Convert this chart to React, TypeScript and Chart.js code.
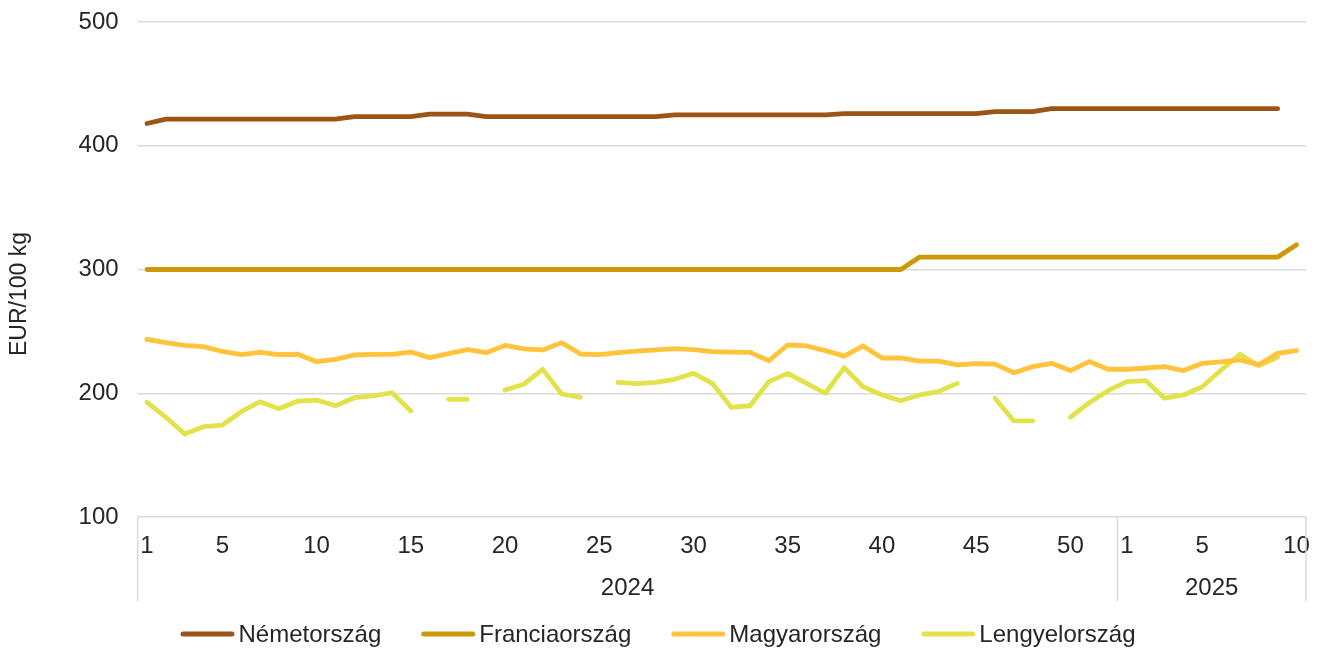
import React, { useEffect, useRef } from "react";
import { Chart, registerables } from "chart.js";

Chart.register(...registerables);

const FONT = '"Liberation Sans", Arial, sans-serif';
const TEXT = "#262626";
const GRID = "#D9D9D9";

const weeks2024 = [
  1, 2, 3, 4, 5, 6, 7, 8, 9, 10, 11, 12, 13, 14, 15, 16, 17, 18, 19, 20, 21, 22, 23, 24, 25, 26,
  27, 28, 29, 30, 31, 32, 33, 34, 35, 36, 37, 38, 39, 40, 41, 42, 43, 44, 45, 46, 47, 48, 49, 50, 51, 52,
];
const weeks2025 = [1, 2, 3, 4, 5, 6, 7, 8, 9, 10];
const yearLabels = ["2024", "2025"];
const shownWeeks = [1, 5, 10, 15, 20, 25, 30, 35, 40, 45, 50];
const yMin = 100;
const yMax = 500;
const yStep = 100;
const yTitle = "EUR/100 kg";

const seriesNames = ["Németország", "Franciaország", "Magyarország", "Lengyelország"];
const seriesColors = ["#9C5417", "#CC990A", "#FFC33C", "#E2E34B"];

const germany = [
  418, 421.5, 421.5, 421.5, 421.5, 421.5, 421.5, 421.5, 421.5, 421.5, 421.5, 423.5, 423.5, 423.5, 423.5,
  425.5, 425.5, 425.5, 423.5, 423.5, 423.5, 423.5, 423.5, 423.5, 423.5, 423.5, 423.5, 423.5, 425, 425,
  425, 425, 425, 425, 425, 425, 425, 426, 426, 426, 426, 426, 426, 426, 426, 427.5, 427.5, 427.5,
  430, 430, 430, 430,
  430, 430, 430, 430, 430, 430, 430, 430, 430, null,
];
const france = [
  300, 300, 300, 300, 300, 300, 300, 300, 300, 300, 300, 300, 300, 300, 300, 300, 300, 300, 300, 300,
  300, 300, 300, 300, 300, 300, 300, 300, 300, 300, 300, 300, 300, 300, 300, 300, 300, 300, 300, 300,
  300, 310, 310, 310, 310, 310, 310, 310, 310, 310, 310, 310,
  310, 310, 310, 310, 310, 310, 310, 310, 310, 320,
];
const hungary = [
  243.6, 240.9, 238.7, 237.6, 233.9, 231.2, 233.1, 231.2, 231.5, 225.5, 227.4, 230.9, 231.4, 231.4,
  233.3, 228.8, 232, 235.2, 232.8, 238.6, 235.8, 235, 240.9, 231.7, 231.2, 232.8, 234.1, 235, 236,
  235.2, 233.6, 233.3, 233, 226.3, 239, 238.2, 234.4, 230, 238.2, 228.5, 228.5, 226, 226, 223, 224,
  223.5, 216.6, 221.5, 224.2, 218.3, 225.6, 219.4,
  219.4, 220.4, 221.5, 218.3, 224.2, 225.3, 226.9, 222.9, 232.3, 234.4,
];
const poland = [
  192.7, 180.6, 167.1, 173, 174.3, 185.1, 193.2, 187.5, 193.7, 194.5, 189.9, 196.4, 197.8, 200.4,
  185.7, null, 195.1, 195.1, null, 202.6, 207.3, 219.3, 199.4, 196.7, null, 208.8, 207.7, 208.8,
  211.3, 216.1, 208, 188.6, 189.9, 209.4, 216.1, 208, 200, 220.7, 205.3, 198.6, 194, 198.6, 201.3,
  208, null, 196, 177.6, 177.6, null, 180.6, 192.4, 202.1,
  209.4, 210.2, 196, 198.6, 205.3, 218.8, 231.5, 222.3, 229, null,
];

const categoryLabels = [...weeks2024, ...weeks2025].map(String);
const seriesData = [germany, france, hungary, poland];

const yearAxisAndLegendPlugin = {
  id: "yearAxisAndLegend",
  afterDraw(chart: any) {
    const { ctx, chartArea, scales } = chart;
    const xs = scales.x;
    const bottom = chartArea.bottom;
    const n = weeks2024.length;
    const seps = [
      xs.left,
      (xs.getPixelForValue(n - 1) + xs.getPixelForValue(n)) / 2,
      xs.right,
    ];
    ctx.save();
    ctx.strokeStyle = GRID;
    ctx.lineWidth = 1.5;
    seps.forEach((px: number) => {
      ctx.beginPath();
      ctx.moveTo(px, bottom);
      ctx.lineTo(px, bottom + 84);
      ctx.stroke();
    });
    ctx.font = `24px ${FONT}`;
    ctx.fillStyle = TEXT;
    ctx.textAlign = "center";
    ctx.textBaseline = "middle";
    yearLabels.forEach((lab, i) => {
      ctx.fillText(lab, (seps[i] + seps[i + 1]) / 2, bottom + 71);
    });

    // y axis title
    ctx.save();
    ctx.font = `23px ${FONT}`;
    ctx.translate(20, 294);
    ctx.rotate(-Math.PI / 2);
    ctx.fillText(yTitle, 0, 0);
    ctx.restore();

    // legend
    const markerW = 54;
    const gap = 4;
    const itemGap = 40;
    ctx.font = `24px ${FONT}`;
    ctx.textAlign = "left";
    const widths = seriesNames.map((s) => ctx.measureText(s).width);
    const total =
      widths.reduce((a: number, b: number) => a + b, 0) +
      seriesNames.length * (markerW + gap) +
      (seriesNames.length - 1) * itemGap;
    let x = 658 - total / 2;
    const ly = bottom + 117;
    seriesNames.forEach((name, i) => {
      ctx.strokeStyle = seriesColors[i];
      ctx.lineWidth = 5;
      ctx.lineCap = "round";
      ctx.beginPath();
      ctx.moveTo(x + 2.5, ly);
      ctx.lineTo(x + markerW - 2.5, ly);
      ctx.stroke();
      ctx.fillStyle = TEXT;
      ctx.fillText(name, x + markerW + gap, ly + 1);
      x += markerW + gap + widths[i] + itemGap;
    });
    ctx.restore();
  },
};

export default function App() {
  const canvasRef = useRef<HTMLCanvasElement | null>(null);

  useEffect(() => {
    if (!canvasRef.current) return;
    const chart = new Chart(canvasRef.current, {
      type: "line",
      data: {
        labels: categoryLabels,
        datasets: seriesNames.map((name, i) => ({
          label: name,
          data: seriesData[i],
          borderColor: seriesColors[i],
          backgroundColor: seriesColors[i],
          borderWidth: 4.8,
          pointRadius: 0,
          pointHoverRadius: 0,
          tension: 0,
          spanGaps: false,
          borderCapStyle: "round",
          borderJoinStyle: "round",
          fill: false,
        })),
      },
      options: {
        animation: false,
        responsive: true,
        maintainAspectRatio: false,
        layout: { padding: { top: 22, right: 18.6, bottom: 0, left: 0 } },
        plugins: {
          legend: { display: false },
          tooltip: { enabled: false },
          title: { display: false },
        },
        scales: {
          x: {
            type: "category",
            offset: true,
            grid: { display: false, drawTicks: false },
            border: { display: false },
            ticks: {
              autoSkip: false,
              maxRotation: 0,
              minRotation: 0,
              padding: 15,
              color: TEXT,
              font: { family: FONT, size: 24 },
              callback: function (this: any, value: any) {
                const lab = categoryLabels[value as number];
                return shownWeeks.includes(Number(lab)) ? lab : "";
              },
            },
            afterFit: (s: any) => {
              s.height = 131;
            },
          },
          y: {
            min: yMin,
            max: yMax,
            ticks: {
              stepSize: yStep,
              padding: 19,
              color: TEXT,
              font: { family: FONT, size: 24 },
            },
            grid: { color: GRID, lineWidth: 1.5, drawTicks: false },
            border: { display: false },
            title: { display: false },
            afterFit: (s: any) => {
              s.width = 137.6;
              s.paddingTop = 0;
              s.paddingBottom = 0;
            },
          },
        },
      },
      plugins: [yearAxisAndLegendPlugin],
    });
    return () => chart.destroy();
  }, []);

  return (
    <div style={{ position: "absolute", left: 0, top: 0, width: 1325, height: 648 }}>
      <canvas ref={canvasRef} />
    </div>
  );
}
